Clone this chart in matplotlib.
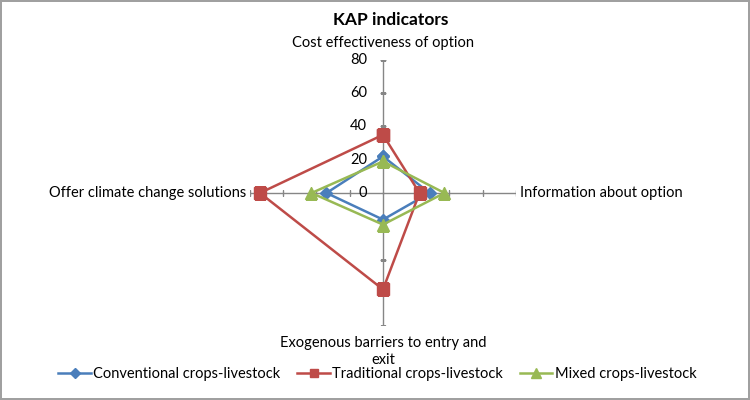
import matplotlib.pyplot as plt
import numpy as np
from matplotlib.transforms import offset_copy

categories = ['Cost effectiveness of option', 'Information about option',
              'Exogenous barriers to entry and\nexit', 'Offer climate change solutions']
conventional = [22, 28, 16, 34]
traditional = [35, 22, 58, 74]
mixed = [19, 37, 19, 43]
rticks = [0, 20, 40, 60, 80]

plt.rcParams['font.family'] = ['Lato', 'DejaVu Sans']

fig = plt.figure(figsize=(7.5, 4), dpi=100)
fig.patch.set_edgecolor('#a0a0a0')
fig.patch.set_linewidth(1.5)
ax = fig.add_axes([0.3333, 0.185, 0.3547, 0.665], projection='polar')
ax.set_theta_zero_location('N')
ax.set_theta_direction(-1)
ax.set_ylim(0, 80)
ax.grid(False)
ax.spines['polar'].set_visible(False)
ax.set_xticks([])
ax.set_yticks([])
ax.patch.set_alpha(0)

angles = np.deg2rad([0, 90, 180, 270])
for a in angles:
    ax.plot([a, a], [0, 80], color='#868686', lw=1, zorder=1)
    mk = '_' if a in (angles[0], angles[2]) else '|'
    ax.plot([a] * 4, rticks[1:], ls='none', marker=mk, ms=5, mew=1,
            color='#868686', zorder=1)

closed = np.append(angles, angles[0])
series = [('Conventional crops-livestock', conventional, '#4A7EBB', 'D', 6),
          ('Traditional crops-livestock', traditional, '#BE4B48', 's', 8),
          ('Mixed crops-livestock', mixed, '#98B954', '^', 8.5)]
for name, vals, col, mk, ms in series:
    ax.plot(closed, vals + vals[:1], color=col, lw=1.8, marker=mk, ms=ms,
            label=name, zorder=3)

lab_tr = offset_copy(ax.transData, fig=fig, x=-16, y=0, units='dots')
for r in rticks:
    ax.text(0, r, str(r), transform=lab_tr, ha='right', va='center',
            fontsize=10.5, color='#000000')

fs = 10.5
ax.text(angles[0], 80, categories[0], transform=offset_copy(ax.transData, fig=fig, x=0, y=10, units='dots'),
        ha='center', va='bottom', fontsize=fs)
ax.text(angles[1], 80, categories[1], transform=offset_copy(ax.transData, fig=fig, x=4, y=0, units='dots'),
        ha='left', va='center', fontsize=fs)
ax.text(angles[2], 80, categories[2], transform=offset_copy(ax.transData, fig=fig, x=0, y=-10, units='dots'),
        ha='center', va='top', fontsize=fs, linespacing=1.25)
ax.text(angles[3], 80, categories[3], transform=offset_copy(ax.transData, fig=fig, x=-4, y=0, units='dots'),
        ha='right', va='center', fontsize=fs)

fig.text(0.521, 0.95, 'KAP indicators', ha='center', va='center',
         fontsize=12.5, fontweight='bold')
fig.legend(loc='center', bbox_to_anchor=(0.503, 0.065), ncol=3, frameon=False,
           fontsize=fs, handlelength=2.25, columnspacing=1.15, handletextpad=0.15,
           markerscale=0.8)

fig.savefig('out.png', dpi=100)
